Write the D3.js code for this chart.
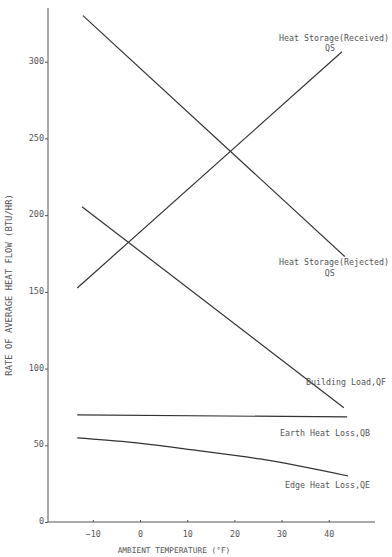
<!DOCTYPE html>
<html>
<head>
<meta charset="utf-8">
<script src="https://cdn.jsdelivr.net/npm/d3@7"></script>
<style>
  body { margin: 0; background: #fff; }
  svg text { font-family: "DejaVu Sans Mono", "Liberation Mono", monospace; fill: #555; }
  .axis path, .axis line { stroke: #555; }
  .series { fill: none; stroke: #333; stroke-width: 1.2; }
</style>
</head>
<body>
<svg id="chart" width="392" height="557"></svg>
<script>
const xTicks = [-10, 0, 10, 20, 30, 40];
const yTicks = [0, 50, 100, 150, 200, 250, 300];

// ambient temperature (F) / heat flow (BTU/HR)
const receivedTemp = [-13.3, 42.8];
const receivedFlow = [152.5, 306.5];
const rejectedTemp = [-12.1, 43.4];
const rejectedFlow = [330, 173];
const buildingTemp = [-12.3, 43.2];
const buildingFlow = [205.5, 74.5];
const earthTemp = [-13.3, 43.9];
const earthFlow = [69.8, 68.5];
const edgeTemp = [-13.3, -2.8, 11.2, 25.4, 44.1];
const edgeFlow = [54.8, 52.2, 47.0, 41.1, 30.0];

const chartSize = { width: 392, height: 557 };
const margin = { left: 48, right: 17, top: 8, bottom: 35 };

const svg = d3.select("#chart");

const x = d3.scaleLinear()
  .domain([-19.5, 49.8])
  .range([margin.left, chartSize.width - margin.right]);

const y = d3.scaleLinear()
  .domain([0, 335])
  .range([chartSize.height - margin.bottom, margin.top]);

const xAxis = d3.axisBottom(x).tickValues(xTicks).tickSize(-2).tickPadding(9);
const yAxis = d3.axisLeft(y).tickValues(yTicks).tickSize(3).tickPadding(1);

svg.append("g")
  .attr("class", "x axis")
  .attr("transform", `translate(0,${y(0)})`)
  .call(xAxis)
  .call(g => g.select(".domain").attr("d", `M${x.range()[0]},0H${x.range()[1]}`))
  .selectAll("text").style("font-size", "8.3px");

svg.append("g")
  .attr("class", "y axis")
  .attr("transform", `translate(${x.range()[0]},0)`)
  .call(yAxis)
  .call(g => g.select(".domain").attr("d", `M0,${y.range()[1]}V${y.range()[0]}`))
  .selectAll("text").style("font-size", "8.5px").attr("dy", "0.2em");

svg.append("text")
  .attr("x", 174)
  .attr("y", 553)
  .attr("text-anchor", "middle")
  .style("font-size", "7.8px")
  .text("AMBIENT TEMPERATURE (°F)");

svg.append("text")
  .attr("transform", "translate(12,285) rotate(-90)")
  .attr("text-anchor", "middle")
  .style("font-size", "8.9px")
  .text("RATE OF AVERAGE HEAT FLOW (BTU/HR)");

const line = d3.line()
  .x(d => x(d[0]))
  .y(d => y(d[1]))
  .curve(d3.curveMonotoneX);

const series = [
  { temp: receivedTemp, flow: receivedFlow },
  { temp: rejectedTemp, flow: rejectedFlow },
  { temp: buildingTemp, flow: buildingFlow },
  { temp: earthTemp, flow: earthFlow },
  { temp: edgeTemp, flow: edgeFlow }
];

svg.selectAll(".series")
  .data(series)
  .enter()
  .append("path")
  .attr("class", "series")
  .attr("d", s => line(d3.zip(s.temp, s.flow)));

const label = (txt, px, py, anchor) =>
  svg.append("text")
    .attr("x", px)
    .attr("y", py)
    .attr("text-anchor", anchor)
    .style("font-size", "8.3px")
    .text(txt);

const endOf = (t, f) => [x(t[t.length - 1]), y(f[f.length - 1])];

let [ex, ey] = endOf(receivedTemp, receivedFlow);
label("Heat Storage(Received)", 389, ey - 11, "end");
label("QS", ex - 12, ey - 1, "middle");

[ex, ey] = endOf(rejectedTemp, rejectedFlow);
label("Heat Storage(Rejected)", 389, ey + 8, "end");
label("QS", ex - 15, ey + 19, "middle");

[ex, ey] = endOf(buildingTemp, buildingFlow);
label("Building Load,QF", 386, ey - 23, "end");

[ex, ey] = endOf(earthTemp, earthFlow);
label("Earth Heat Loss,QB", 370, ey + 19, "end");

[ex, ey] = endOf(edgeTemp, edgeFlow);
label("Edge Heat Loss,QE", 370, ey + 12, "end");
</script>
</body>
</html>
